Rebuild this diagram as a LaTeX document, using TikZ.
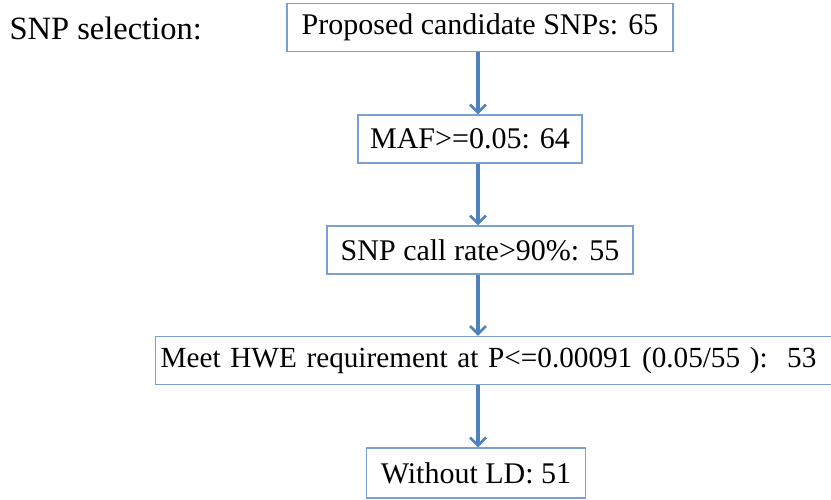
\documentclass[tikz,border=0pt]{standalone}
\usepackage{fontspec}
\setmainfont{Liberation Serif}
\usetikzlibrary{arrows.meta}
\definecolor{flowblue}{RGB}{79,129,189}
\definecolor{boxblue}{RGB}{120,160,210}
\begin{document}
\begin{tikzpicture}[
        x=1pt, y=1pt,
        stepbox/.style={draw=boxblue, line width=1.3pt, fill=white, inner sep=0pt, minimum height=48pt, font=\fontsize{30}{34}\selectfont},
        arr/.style={draw=flowblue, line width=3.2pt, -{Straight Barb[length=8pt, width=16pt, line width=2.6pt]}},
    ]
    \useasboundingbox (0,0) rectangle (831,-499);
    \node[anchor=west, font=\fontsize{32.5}{36}\selectfont](title) at (6,-28){SNP selection:};
    \node[stepbox, minimum width=386pt](b1) at (480,-27.5){Proposed candidate SNPs: 65};
    \node[stepbox, minimum width=224pt](b2) at (470,-139){MAF>=0.05: 64};
    \node[stepbox, minimum width=306pt](b3) at (480,-250){SNP call rate>90\%: 55};
    \node[stepbox, minimum width=690pt, anchor=west, align=left, text width=680pt, inner xsep=5pt, font=\fontsize{29.2}{34}\selectfont](b4) at (155,-360.5){Meet HWE requirement at P<=0.00091 (0.05/55~):~~53};
    \node[stepbox, minimum width=219pt, minimum height=50pt](b5) at (476,-473){Without LD: 51};
    \coordinate (ax) at (478,0);
    \draw[arr] (b1.south -| ax) -- (b2.north -| ax);
    \draw[arr] (b2.south -| ax) -- (b3.north -| ax);
    \draw[arr] (b3.south -| ax) -- (b4.north -| ax);
    \draw[arr] (b4.south -| ax) -- (b5.north -| ax);
\end{tikzpicture}
\end{document}
